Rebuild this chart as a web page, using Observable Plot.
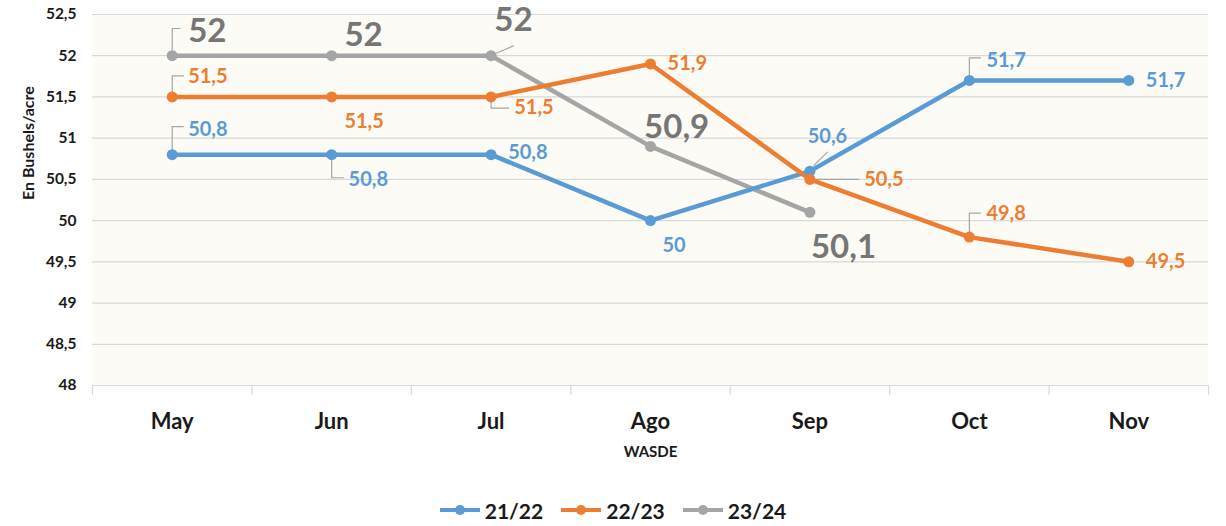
<!DOCTYPE html>
<html><head><meta charset="utf-8">
<script src="https://cdn.jsdelivr.net/npm/d3@7"></script>
<script src="https://cdn.jsdelivr.net/npm/@observablehq/plot@0.6"></script>
<style>
body{margin:0;background:#fff;font-family:Lato,"Open Sans",sans-serif;}
#chart{width:1226px;height:480px;}
.legend{display:flex;justify-content:center;align-items:center;height:46px;padding-top:14px;box-sizing:border-box;gap:18px;}
.item{display:flex;align-items:center;font-weight:700;font-size:21px;color:#1a1a1a;}
.item svg{margin-right:5px;}
</style></head><body>
<div id="chart"></div>
<div class="legend" id="legend"></div>
<script>
// ---- data ----
const months = ["May","Jun","Jul","Ago","Sep","Oct","Nov"];
const seriesNames = ["21/22","22/23","23/24"];
const values2122 = [50.8,50.8,50.8,50,50.6,51.7,51.7];
const values2223 = [51.5,51.5,51.5,51.9,50.5,49.8,49.5];
const values2324 = [52,52,52,50.9,50.1];
const yTicks = [48,48.5,49,49.5,50,50.5,51,51.5,52,52.5];
const xLabel = "WASDE";
const yLabel = "En Bushels/acre";

// ---- styles / layout ----
const colors = {"21/22":"#5b9bd5","22/23":"#ed7d31","23/24":"#a5a5a5"};
const labelColors = {"21/22":"#5b9bd5","22/23":"#ed7d31","23/24":"#767676"};
// label offsets (in data units) and leader lines relative to each point
const layout = {
  "21/22":[
    {lx:0.10,ly:0.31,leader:[[0,0],[0,0.34],[0.07,0.34]]},
    {lx:0.106,ly:-0.30,leader:[[0,0],[0,-0.28],[0.075,-0.28]]},
    {lx:0.107,ly:0.03},
    {lx:0.075,ly:-0.30},
    {lx:0.11,ly:0.42,anchor:"middle",leader:[[0.025,0.07],[0.11,0.23]]},
    {lx:0.107,ly:0.24,leader:[[0,0],[0,0.275],[0.07,0.275]]},
    {lx:0.107,ly:0}
  ],
  "22/23":[
    {lx:0.10,ly:0.245,leader:[[0,0],[0,0.255],[0.07,0.255]]},
    {lx:0.08,ly:-0.30},
    {lx:0.145,ly:-0.135,leader:[[0,0],[0,-0.135],[0.11,-0.135]]},
    {lx:0.107,ly:0},
    {lx:0.34,ly:0,leader:[[0.03,0],[0.307,0]]},
    {lx:0.107,ly:0.28,leader:[[0,0],[0,0.29],[0.07,0.29]]},
    {lx:0.107,ly:0}
  ],
  "23/24":[
    {lx:0.10,ly:0.30,leader:[[0,0],[0,0.33],[0.05,0.33]]},
    {lx:0.08,ly:0.24},
    {lx:0.02,ly:0.43,leader:[[0.02,0.02],[0.14,0.12]]},
    {lx:-0.04,ly:0.23},
    {lx:0.006,ly:-0.42}
  ]
};

const valuesBySeries = {"21/22":values2122,"22/23":values2223,"23/24":values2324};
const drawOrder = ["23/24","21/22","22/23"];
const rows = [];
for (const s of drawOrder) valuesBySeries[s].forEach((v,i)=>rows.push({series:s,i,value:v}));

const labels = [], leaders = [];
for (const s of seriesNames) {
  valuesBySeries[s].forEach((v,i)=>{
    const L = layout[s][i];
    labels.push({series:s,x:i+L.lx,y:v+L.ly,text:String(v).replace(".",","),anchor:L.anchor||"start"});
    if (L.leader) L.leader.forEach(([dx,dy])=>leaders.push({id:s+i,x:i+dx,y:v+dy}));
  });
}
const fmt = d => String(d).replace(".",",");
const boundaries = d3.range(months.length+1).map(k=>k-0.5);
const font = "Lato, 'Open Sans', sans-serif";

const T = (data, opts) => Plot.text(data, {fontFamily: font, fontWeight: 700, ...opts});
const small = labels.filter(d=>d.series!=="23/24");
const big = labels.filter(d=>d.series==="23/24");

const chart = Plot.plot({
  width: 1226, height: 480,
  marginLeft: 92, marginRight: 18, marginTop: 14, marginBottom: 95,
  x: {domain: [-0.5, months.length-0.5], axis: null},
  y: {domain: [48, 52.5], axis: null},
  color: {domain: seriesNames, range: seriesNames.map(s=>colors[s])},
  style: {fontFamily: font, background: "transparent", overflow: "visible"},
  marks: [
    Plot.frame({fill: "#fcfbf5", stroke: null}),
    Plot.ruleY(yTicks, {y: d=>d, stroke: "#d9d9d9", strokeWidth: 1.2}),
    Plot.ruleX(boundaries, {x: d=>d, y1: 48, y2: 47.88, stroke: "#d9d9d9", strokeWidth: 1.2}),
    T(yTicks, {x: -0.5, y: d=>d, text: fmt, textAnchor: "end", dx: -16, fontSize: 15.5, fill: "#1a1a1a"}),
    T(months, {x: (d,i)=>i, y: 48, text: d=>d, dy: 36, fontSize: 22, fill: "#1a1a1a"}),
    T([xLabel], {frameAnchor: "bottom", text: d=>d, dy: 71, fontSize: 15, fill: "#1a1a1a"}),
    T([yLabel], {frameAnchor: "left", text: d=>d, dx: -64, rotate: -90, fontSize: 16, fill: "#1a1a1a"}),
    Plot.line(leaders, {x: "x", y: "y", z: "id", stroke: "#a6a6a6", strokeWidth: 1.2}),
    Plot.line(rows, {x: "i", y: "value", z: "series", stroke: "series", strokeWidth: 4.5}),
    Plot.dot(rows, {x: "i", y: "value", fill: "series", r: 5.5}),
    T(small.filter(d=>d.anchor==="start"), {x: "x", y: "y", text: "text", textAnchor: "start", fill: d=>labelColors[d.series], fontSize: 20}),
    T(small.filter(d=>d.anchor==="middle"), {x: "x", y: "y", text: "text", textAnchor: "middle", fill: d=>labelColors[d.series], fontSize: 20}),
    T(big, {x: "x", y: "y", text: "text", textAnchor: "start", fill: labelColors["23/24"], fontSize: 33})
  ]
});
document.getElementById("chart").appendChild(chart);

const legend = document.getElementById("legend");
for (const s of seriesNames) {
  const item = document.createElement("div");
  item.className = "item";
  item.innerHTML = `<svg width="40" height="12"><line x1="0" y1="6" x2="40" y2="6" stroke="${colors[s]}" stroke-width="4"/><circle cx="20" cy="6" r="5" fill="${colors[s]}"/></svg><span>${s}</span>`;
  legend.appendChild(item);
}
</script>
</body></html>
